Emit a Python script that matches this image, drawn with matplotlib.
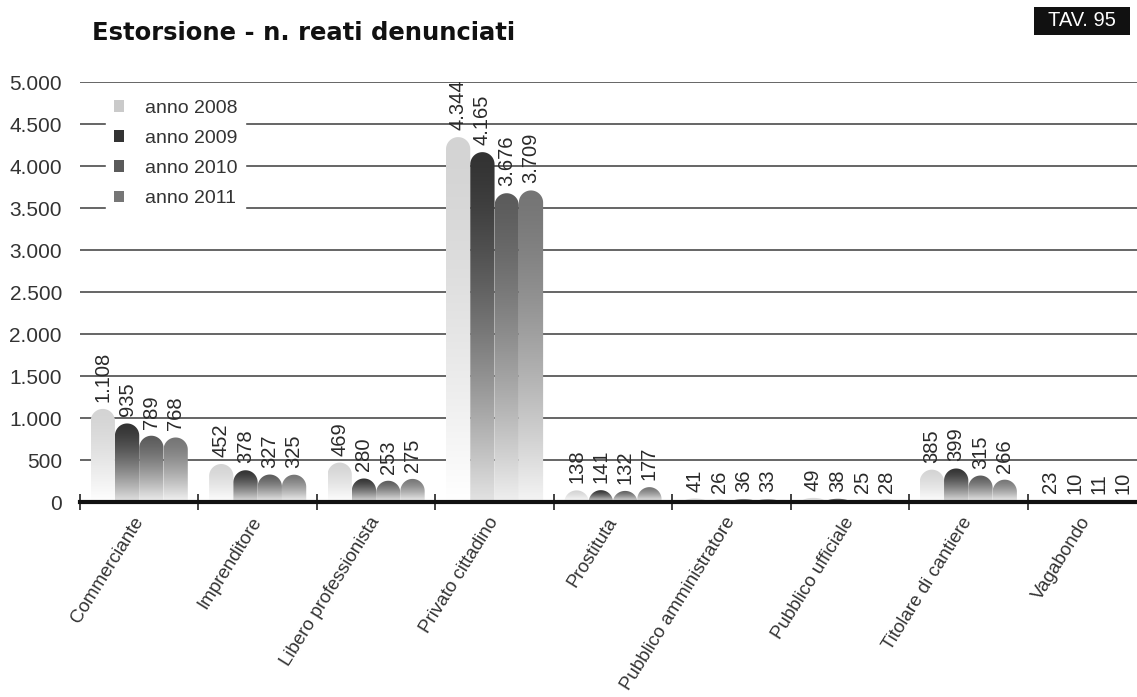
import numpy as np
import matplotlib
matplotlib.use("Agg")
import matplotlib.pyplot as plt
from matplotlib.path import Path
from matplotlib.patches import PathPatch, Patch, Rectangle

plt.rcParams['font.family'] = ['Liberation Sans', 'DejaVu Sans']

categories = ['Commerciante', 'Imprenditore', 'Libero professionista', 'Privato cittadino',
              'Prostituta', 'Pubblico amministratore', 'Pubblico ufficiale',
              'Titolare di cantiere', 'Vagabondo']
y2008 = [1108, 452, 469, 4344, 138, 41, 49, 385, 23]
y2009 = [935, 378, 280, 4165, 141, 26, 38, 399, 10]
y2010 = [789, 327, 253, 3676, 132, 36, 25, 315, 11]
y2011 = [768, 325, 275, 3709, 177, 33, 28, 266, 10]
series = [('anno 2008', y2008), ('anno 2009', y2009), ('anno 2010', y2010), ('anno 2011', y2011)]
yticks = list(range(0, 5001, 500))

# grey level at the top of each bar, and how far it fades to white at the bottom
tops = [0.83, 0.20, 0.36, 0.46]
fades = [1.0, 0.86, 0.9, 0.92]
legend_cols = ['#cacaca', '#333333', '#5a5a5a', '#767676']

W, H = 1137, 697
fig = plt.figure(figsize=(W / 100, H / 100), dpi=100)
ax_l, ax_b = 80 / W, (H - 502) / H
ax_w, ax_h = 1066 / W, 420 / H
ax = fig.add_axes([ax_l, ax_b, ax_w, ax_h])

xmin, xmax, ymax = -0.5, len(categories) - 0.5, 5000
bw = 0.205
rx = bw / 2
# vertical radius in data units so the top is a true semicircle in pixels
ry = rx * (1066 / (xmax - xmin)) * (ymax / 420)

theta = np.linspace(np.pi, 0, 40)
for si, (name, vals) in enumerate(series):
    for ci, v in enumerate(vals):
        xc = ci + (si - 1.5) * bw
        x0, x1 = xc - rx, xc + rx
        r = min(ry, v)
        base = v - r
        verts = [(x0, 0), (x0, base)]
        verts += list(zip(xc + rx * np.cos(theta), base + r * np.sin(theta)))
        verts += [(x1, base), (x1, 0), (x0, 0)]
        codes = [Path.MOVETO] + [Path.LINETO] * (len(verts) - 2) + [Path.CLOSEPOLY]
        patch = PathPatch(Path(verts, codes), facecolor='none', edgecolor='none')
        ax.add_patch(patch)
        t = np.linspace(1, 0, 100)  # bottom -> top, origin lower
        g = tops[si] + (1 - tops[si]) * fades[si] * t ** 1.4
        img = np.dstack([g, g, g]).reshape(100, 1, 3)
        im = ax.imshow(img, extent=(x0, x1, 0, v), origin='lower', aspect='auto',
                       interpolation='bilinear', zorder=2)
        im.set_clip_path(patch)
        lab = f"{v:,}".replace(',', '.')
        ax.annotate(lab, (xc, v), xytext=(0, 7), textcoords='offset pixels',
                    rotation=90, ha='center', va='bottom', fontsize=14.5,
                    color='#2a2a2a', zorder=4)

ax.set_xlim(xmin, xmax)
ax.set_ylim(0, ymax)
for s in ax.spines.values():
    s.set_visible(False)

ax.set_yticks(yticks)
ax.set_yticklabels([f"{v:,}".replace(',', '.') for v in yticks], fontsize=15, color='#333333')
ax.tick_params(axis='y', length=0, pad=13)
ax.yaxis.grid(True, color='#3c3c3c', lw=1.1)
ax.set_axisbelow(True)

ax.axhline(0, color='#111111', lw=3.0, zorder=3, clip_on=False)

ax.set_xticks(range(len(categories)))
ax.set_xticklabels(categories, rotation=58, ha='right', va='center',
                   rotation_mode='anchor', fontsize=13.5, color='#333333')
ax.tick_params(axis='x', which='major', length=0, pad=12)
ax.set_xticks(np.arange(xmin, xmax + 0.01, 1), minor=True)
ax.tick_params(axis='x', which='minor', direction='inout', length=12, width=1.2,
               color='#222222')

handles = [Patch(facecolor=c, edgecolor='none') for c in legend_cols]
leg = ax.legend(handles, [s[0] for s in series], loc='upper left',
                bbox_to_anchor=(106 / W, 1 - 92 / H), bbox_transform=fig.transFigure,
                fontsize=14, frameon=True, fancybox=False, framealpha=1,
                facecolor='white', edgecolor='white', borderaxespad=0,
                handlelength=0.55, handleheight=0.55, handletextpad=1.05,
                labelspacing=0.68, borderpad=0.4)
for txt in leg.get_texts():
    txt.set_color('#333333')

fig.text(92 / W, 1 - 33 / H, 'Estorsione - n. reati denunciati', fontsize=17.5,
         fontweight='bold', family='DejaVu Sans', va='center', ha='left',
         color='#111111')
fig.patches.append(Rectangle((1034 / W, 1 - 35 / H), 96 / W, 28 / H,
                             transform=fig.transFigure, facecolor='#111111',
                             edgecolor='none'))
fig.text(1082 / W, 1 - 21 / H, 'TAV. 95', fontsize=14.5, color='white',
         ha='center', va='center')

fig.savefig('out.png', dpi=100, facecolor='white')
